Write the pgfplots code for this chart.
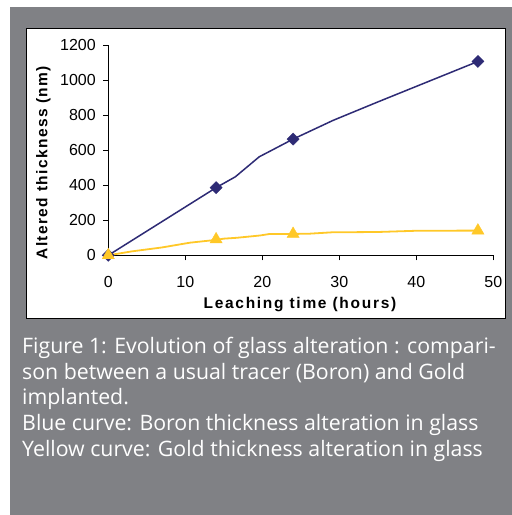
\documentclass[border=0pt]{standalone}
\usepackage{pgfplots}
\pgfplotsset{compat=1.18}
\usepackage{fontspec}
\setmainfont{Liberation Sans}
\newfontfamily\capfont{Open Sans}
\definecolor{bgray}{RGB}{128,129,133}
\definecolor{boron}{RGB}{46,43,117}
\definecolor{gold}{RGB}{255,200,40}
\begin{document}
\begin{tikzpicture}
\fill[white] (0pt,0pt) rectangle (512pt,515pt);
\fill[bgray] (10pt,0pt) rectangle (512pt,508pt);
\filldraw[fill=white,draw=black,line width=0.8pt] (26pt,197pt) rectangle (505pt,487pt);
\begin{axis}[
  at={(108.3pt,259.7pt)}, anchor=south west,
  scale only axis, width=385pt, height=210.3pt,
  xmin=0, xmax=50, ymin=0, ymax=1200,
  axis x line*=bottom, axis y line*=left,
  xtick={0,10,...,50}, ytick={0,200,...,1200},
  tick align=outside, major tick length=5pt,
  tick style={black, line width=0.6pt},
  axis line style={black, line width=0.8pt},
  ticklabel style={font=\fontsize{16}{16}\selectfont},
  xticklabel style={yshift=-12pt},
  yticklabel style={xshift=-4pt},
  /pgf/number format/assume math mode=true,
  /pgf/number format/1000 sep={},
  clip=false,
  xlabel={\textbf{Leaching time (hours)}},
  ylabel={\textbf{Altered thickness (nm)}},
  every axis x label/.style={at={(axis description cs:0.5,0)}, anchor=base, yshift=-53.5pt, font=\fontsize{15.5}{15.5}\selectfont\addfontfeature{LetterSpace=11}},
  every axis y label/.style={at={(axis description cs:-0.158,0.444)}, rotate=90, anchor=base, font=\fontsize{15.5}{15.5}\selectfont\addfontfeature{LetterSpace=9}},
]
\addplot[boron, line width=1.5pt] coordinates {
  (0,0) (14,386) (16.5,448) (19.6,562) (24,663) (29.2,770) (35,875) (48,1106)
};
\addplot[only marks, mark=square*, mark size=4.3pt, mark options={rotate=45, fill=boron, draw=boron}] coordinates {
  (0,0) (14,386) (24,663) (48,1106)
};
\addplot[gold, line width=1.8pt] coordinates {
  (0,0) (3,22) (7,45) (10.6,72) (14,88) (15,95) (16.7,100) (19.7,113) (21,122) (24,122) (26,123) (29,131) (35,133) (40,140) (48,141)
};
\addplot[only marks, mark=triangle*, mark size=7pt, mark options={fill=gold, draw=gold}] coordinates {
  (0,0) (14,91) (24,122) (48,141)
};
\end{axis}
\begin{scope}[font=\capfont\fontsize{21.3}{21.3}\selectfont, text=white]
\node[anchor=base west, inner sep=0pt] at (22pt,161.7pt) {Figure 1: Evolution of glass alteration : compari-};
\node[anchor=base west, inner sep=0pt] at (22pt,135.7pt) {son between a usual tracer (Boron) and Gold};
\node[anchor=base west, inner sep=0pt] at (22pt,110pt) {implanted.};
\node[anchor=base west, inner sep=0pt] at (22pt,84pt) {Blue curve: Boron thickness alteration in glass};
\node[anchor=base west, inner sep=0pt] at (22pt,58.3pt) {Yellow curve: Gold thickness alteration in glass};
\end{scope}
\end{tikzpicture}
\end{document}
